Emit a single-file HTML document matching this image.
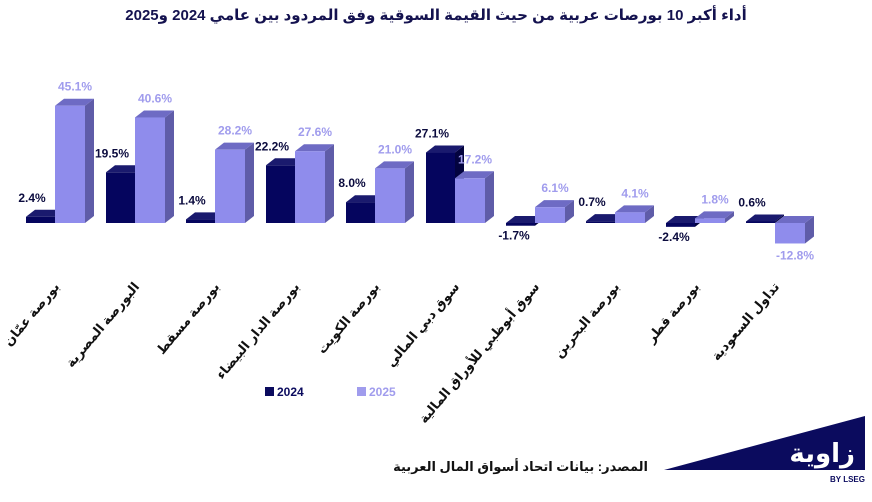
<!DOCTYPE html>
<html><head><meta charset="utf-8"><style>
body{margin:0;background:#fff;width:872px;height:497px;overflow:hidden;font-family:"Liberation Sans","Noto Sans CJK SC",sans-serif}
</style></head><body>
<svg width="872" height="497" xmlns="http://www.w3.org/2000/svg" font-family="'Liberation Sans','Noto Sans CJK SC','DejaVu Sans',sans-serif">
<text x="436" y="20" text-anchor="middle" direction="rtl" font-size="15" font-weight="bold" fill="#14124f">أداء أكبر 10 بورصات عربية من حيث القيمة السوقية وفق المردود بين عامي 2024 و2025</text>
<g id="bars"></g>
<g font-size="13" font-weight="bold" fill="#111" direction="rtl">
<text transform="translate(60,287) rotate(-50)" text-anchor="start">بورصة عمّان</text>
<text transform="translate(140,287) rotate(-50)" text-anchor="start">البورصة المصرية</text>
<text transform="translate(220,287) rotate(-50)" text-anchor="start">بورصة مسقط</text>
<text transform="translate(300,287) rotate(-50)" text-anchor="start">بورصة الدار البيضاء</text>
<text transform="translate(380,287) rotate(-50)" text-anchor="start">بورصة الكويت</text>
<text transform="translate(460,287) rotate(-50)" text-anchor="start">سوق دبي المالي</text>
<text transform="translate(540,287) rotate(-50)" text-anchor="start">سوق أبوظبي للأوراق المالية</text>
<text transform="translate(620,287) rotate(-50)" text-anchor="start">بورصة البحرين</text>
<text transform="translate(700,287) rotate(-50)" text-anchor="start">بورصة قطر</text>
<text transform="translate(780,287) rotate(-50)" text-anchor="start">تداول السعودية</text>
</g>
<rect x="265" y="387" width="9" height="9" fill="#0b0b5e"/>
<text x="277" y="396" font-size="12" font-weight="bold" fill="#0b0b5e">2024</text>
<rect x="357" y="387" width="9" height="9" fill="#a09ced"/>
<text x="369" y="396" font-size="12" font-weight="bold" fill="#a09ced">2025</text>
<text x="648" y="471" text-anchor="start" direction="rtl" font-size="13" font-weight="bold" fill="#111">المصدر: بيانات اتحاد أسواق المال العربية</text>
<polygon points="664,470 865,416 865,470" fill="#0b0b5e"/>
<text x="855" y="462" text-anchor="end" font-size="26" font-weight="bold" fill="#fff">زاوية</text>
<text x="865" y="482" text-anchor="end" font-size="8" font-weight="bold" fill="#0b0b5e">BY LSEG</text>
<g id="labels"></g>
</svg>
<script>
var d=[[2.4,45.1],[19.5,40.6],[1.4,28.2],[22.2,27.6],[8.0,21.0],[27.1,17.2],[-1.7,6.1],[0.7,4.1],[-2.4,1.8],[0.6,-12.8]];
var base=223,k=2.6,kn=1.6,dx=9,dy=7,s="",l="";
function hgt(v){return v>=0?v*k:v*kn;}
function bar(x,w,v,f,t,sd){
 var top=v>=0?base-hgt(v):base, bot=v>=0?base:base-hgt(v);
 var r="";
 r+='<polygon points="'+(x+w)+','+top+' '+(x+w+dx)+','+(top-dy)+' '+(x+w+dx)+','+(bot-dy)+' '+(x+w)+','+bot+'" fill="'+sd+'"/>';
 r+='<polygon points="'+x+','+top+' '+(x+dx)+','+(top-dy)+' '+(x+w+dx)+','+(top-dy)+' '+(x+w)+','+top+'" fill="'+t+'"/>';
 r+='<rect x="'+x+'" y="'+top+'" width="'+w+'" height="'+(bot-top)+'" fill="'+f+'"/>';
 return r;}
d.forEach(function(p,i){
 var x1=26+80*i,x2=55+80*i;
 s+=bar(x1,29,p[0],"#05055e","#1a1a6e","#03033f");
 s+=bar(x2,30,p[1],"#8f8cec","#6e6bc4","#5f5ca8");
 var y1=p[0]>=0?base-hgt(p[0])-dy-8:base-hgt(p[0])+14;
 var y2=p[1]>=0?base-hgt(p[1])-dy-8:base-hgt(p[1])+16;
 l+='<text x="'+(p[0]>=0?x1+6:x1+8)+'" y="'+y1+'" text-anchor="middle" font-size="12" font-weight="bold" fill="#0b0b3e">'+p[0].toFixed(1)+'%</text>';
 l+='<text x="'+(x2+20)+'" y="'+y2+'" text-anchor="middle" font-size="12" font-weight="bold" fill="#a09ced">'+p[1].toFixed(1)+'%</text>';
});
document.getElementById("bars").innerHTML=s;
document.getElementById("labels").innerHTML=l;
</script>
</body></html>
